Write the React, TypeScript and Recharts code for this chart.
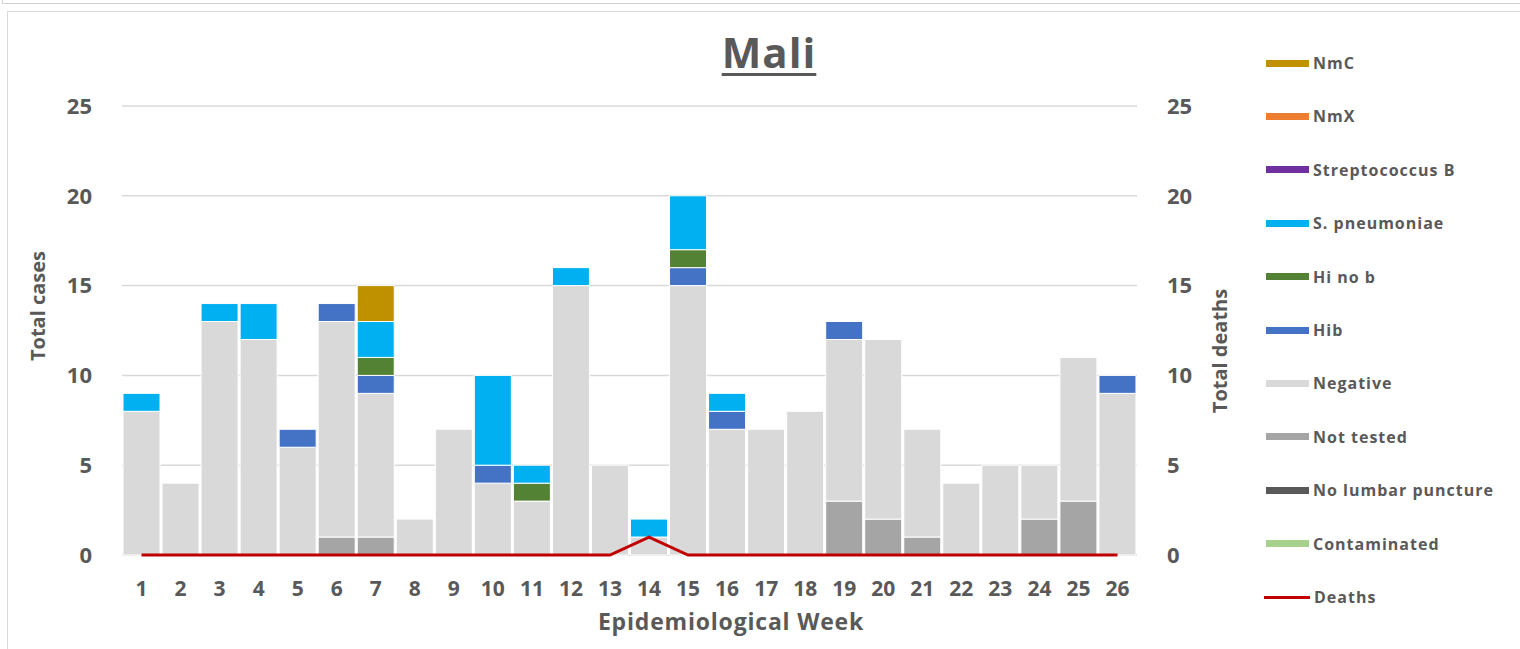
import { ComposedChart, Bar, Line, XAxis, YAxis, CartesianGrid } from 'recharts'

const weeks = ['1', '2', '3', '4', '5', '6', '7', '8', '9', '10', '11', '12', '13', '14', '15', '16', '17', '18', '19', '20', '21', '22', '23', '24', '25', '26']

const contaminated = [0, 0, 0, 0, 0, 0, 0, 0, 0, 0, 0, 0, 0, 0, 0, 0, 0, 0, 0, 0, 0, 0, 0, 0, 0, 0]
const noLumbar = [0, 0, 0, 0, 0, 0, 0, 0, 0, 0, 0, 0, 0, 0, 0, 0, 0, 0, 0, 0, 0, 0, 0, 0, 0, 0]
const notTested = [0, 0, 0, 0, 0, 1, 1, 0, 0, 0, 0, 0, 0, 0, 0, 0, 0, 0, 3, 2, 1, 0, 0, 2, 3, 0]
const negative = [8, 4, 13, 12, 6, 12, 8, 2, 7, 4, 3, 15, 5, 1, 15, 7, 7, 8, 9, 10, 6, 4, 5, 3, 8, 9]
const hib = [0, 0, 0, 0, 1, 1, 1, 0, 0, 1, 0, 0, 0, 0, 1, 1, 0, 0, 1, 0, 0, 0, 0, 0, 0, 1]
const hiNoB = [0, 0, 0, 0, 0, 0, 1, 0, 0, 0, 1, 0, 0, 0, 1, 0, 0, 0, 0, 0, 0, 0, 0, 0, 0, 0]
const sPneumoniae = [1, 0, 1, 2, 0, 0, 2, 0, 0, 5, 1, 1, 0, 1, 3, 1, 0, 0, 0, 0, 0, 0, 0, 0, 0, 0]
const strepB = [0, 0, 0, 0, 0, 0, 0, 0, 0, 0, 0, 0, 0, 0, 0, 0, 0, 0, 0, 0, 0, 0, 0, 0, 0, 0]
const nmX = [0, 0, 0, 0, 0, 0, 0, 0, 0, 0, 0, 0, 0, 0, 0, 0, 0, 0, 0, 0, 0, 0, 0, 0, 0, 0]
const nmC = [0, 0, 0, 0, 0, 0, 2, 0, 0, 0, 0, 0, 0, 0, 0, 0, 0, 0, 0, 0, 0, 0, 0, 0, 0, 0]
const deaths = [0, 0, 0, 0, 0, 0, 0, 0, 0, 0, 0, 0, 0, 1, 0, 0, 0, 0, 0, 0, 0, 0, 0, 0, 0, 0]

const yTicks = [0, 5, 10, 15, 20, 25]

// stacked bottom -> top
const series = [
  { key: 'contaminated', name: 'Contaminated', color: '#A9D18E', values: contaminated },
  { key: 'noLumbar', name: 'No lumbar puncture', color: '#595959', values: noLumbar },
  { key: 'notTested', name: 'Not tested', color: '#A5A5A5', values: notTested },
  { key: 'negative', name: 'Negative', color: '#D9D9D9', values: negative },
  { key: 'hib', name: 'Hib', color: '#4472C4', values: hib },
  { key: 'hiNoB', name: 'Hi no b', color: '#548235', values: hiNoB },
  { key: 'sPneumoniae', name: 'S. pneumoniae', color: '#00B0F0', values: sPneumoniae },
  { key: 'strepB', name: 'Streptococcus B', color: '#7030A0', values: strepB },
  { key: 'nmX', name: 'NmX', color: '#ED7D31', values: nmX },
  { key: 'nmC', name: 'NmC', color: '#BF9000', values: nmC },
]

const data = weeks.map((week, i) => {
  const row: Record<string, string | number> = { week, deaths: deaths[i] }
  series.forEach((s) => {
    row[s.key] = s.values[i]
  })
  return row
})

const textColor = '#595959'
const font = '"Open Sans", "Noto Sans", sans-serif'

const legendItems = [...series].reverse()

function AxisTitle({ x, y, text }: { x: number; y: number; text: string }) {
  return (
    <text
      x={x}
      y={y}
      transform={`rotate(-90 ${x} ${y})`}
      textAnchor="middle"
      dominantBaseline="central"
      fill={textColor}
      fontSize={20}
      fontWeight="bold"
    >
      {text}
    </text>
  )
}

export default function App() {
  return (
    <div
      style={{
        position: 'absolute',
        left: 0,
        top: 0,
        width: 1520,
        height: 649,
        overflow: 'hidden',
        background: '#fff',
        fontFamily: font,
      }}
    >
      <div style={{ position: 'absolute', left: 2, top: -12, width: 1530, height: 14, border: '1px solid #D0D0D0' }} />
      <div style={{ position: 'absolute', left: 7, top: 11, width: 1530, height: 660, border: '1px solid #D9D9D9' }} />

      <div
        style={{
          position: 'absolute',
          left: 669,
          top: 27,
          width: 200,
          textAlign: 'center',
          fontSize: 42,
          fontWeight: 'bold',
          letterSpacing: 1,
          color: textColor,
          textDecoration: 'underline',
          textDecorationThickness: 3,
          textUnderlineOffset: 5,
          lineHeight: '50px',
        }}
      >
        Mali
      </div>

      <div style={{ position: 'absolute', left: 0, top: 0 }}>
        <ComposedChart
          width={1520}
          height={649}
          data={data}
          margin={{ top: 106, right: 283, left: 0, bottom: 0 }}
          barCategoryGap={1}
        >
          <CartesianGrid yAxisId="left" vertical={false} stroke="#D9D9D9" strokeWidth={1.5} />
          <XAxis
            dataKey="week"
            height={94}
            interval={0}
            tickLine={false}
            axisLine={false}
            tickMargin={20}
            tick={{ fontSize: 21, fontWeight: 'bold', fill: textColor }}
            label={{
              content: () => (
                <text
                  x={731}
                  y={621}
                  textAnchor="middle"
                  dominantBaseline="central"
                  fill={textColor}
                  fontSize={23}
                  fontWeight="bold"
                  letterSpacing={0.8}
                >
                  Epidemiological Week
                </text>
              ),
            }}
          />
          <YAxis
            yAxisId="left"
            width={122}
            domain={[0, 25]}
            ticks={yTicks}
            tickLine={false}
            axisLine={false}
            tickMargin={24}
            tick={{ fontSize: 22, fontWeight: 'bold', fill: textColor }}
            label={{ content: () => <AxisTitle x={37} y={306} text="Total cases" /> }}
          />
          <YAxis
            yAxisId="right"
            orientation="right"
            width={100}
            domain={[0, 25]}
            ticks={yTicks}
            tickLine={false}
            axisLine={false}
            tickMargin={24}
            tick={{ fontSize: 22, fontWeight: 'bold', fill: textColor, textAnchor: 'start' }}
            label={{ content: () => <AxisTitle x={1219} y={351} text="Total deaths" /> }}
          />
          {series.map((s) => (
            <Bar
              key={s.key}
              yAxisId="left"
              dataKey={s.key}
              name={s.name}
              stackId="cases"
              fill={s.color}
              stroke="#fff"
              strokeWidth={1}
              isAnimationActive={false}
            />
          ))}
          <Line
            yAxisId="right"
            dataKey="deaths"
            name="Deaths"
            stroke="#C00000"
            strokeWidth={3}
            dot={false}
            activeDot={false}
            type="linear"
            isAnimationActive={false}
          />
        </ComposedChart>
      </div>

      <div style={{ position: 'absolute', left: 1264, top: 63 }}>
        {[...legendItems, { key: 'deaths', name: 'Deaths', color: '#C00000' }].map((item, i) => (
          <div
            key={item.key}
            style={{
              position: 'absolute',
              left: 0,
              top: i * 53.4 - 10,
              height: 20,
              display: 'flex',
              alignItems: 'center',
              whiteSpace: 'nowrap',
            }}
          >
            <span
              style={{
                display: 'inline-block',
                width: item.key === 'deaths' ? 46 : 43,
                height: item.key === 'deaths' ? 3 : 7,
                marginLeft: item.key === 'deaths' ? 0 : 2,
                background: item.color,
                marginRight: 4,
              }}
            />
            <span style={{ fontSize: 16, fontWeight: 'bold', color: textColor, letterSpacing: 1 }}>{item.name}</span>
          </div>
        ))}
      </div>
    </div>
  )
}
